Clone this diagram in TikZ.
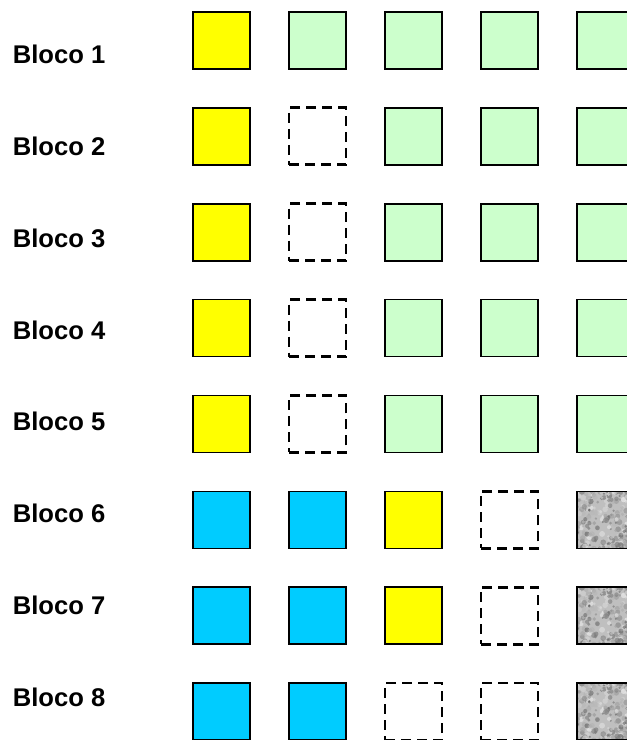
\documentclass[tikz,border=0pt]{standalone}
\usepackage{fontspec}
\setmainfont{Liberation Sans}
\usetikzlibrary{positioning}
\definecolor{amarelo}{HTML}{FFFF00}
\definecolor{verdeclaro}{HTML}{CCFFCC}
\definecolor{azul}{HTML}{00CCFF}

\begin{document}
\begin{tikzpicture}[x=1pt,y=-1pt,
	quad/.style={draw=black, line width=1.6pt, minimum size=57pt, inner sep=0pt},
	am/.style={quad, fill=amarelo},
	vd/.style={quad, fill=verdeclaro},
	az/.style={quad, fill=azul},
	vz/.style={quad, line width=2.8pt, dash pattern=on 10pt off 6pt},
	rc/.style={quad, fill=black!25,
		path picture={
			\pgfmathsetseed{17}
			\foreach \k in {1,...,300}{
				\pgfmathsetmacro\px{(rnd-0.5)*62}
				\pgfmathsetmacro\py{(rnd-0.5)*62}
				\pgfmathsetmacro\tom{int(5+60*rnd)}
				\pgfmathsetmacro\raio{1+2*rnd}
				\fill[black!\tom, opacity=0.6] ([shift={(\px,\py)}]path picture bounding box.center) circle (\raio);
			}}},
	rotulo/.style={font=\bfseries\fontsize{25.6}{30}\selectfont, anchor=base west, inner sep=0pt}]
	
	\useasboundingbox (0,0) rectangle (627,740);
	
	% rotulos
	\foreach \r in {1,...,8}
		\node[rotulo] (l\r) at (12.7,{63.3+91.9*(\r-1)}) {Bloco \r};
	
	% quadrados
	\foreach \r/\lista in {1/{am,vd,vd,vd,vd}, 2/{am,vz,vd,vd,vd}, 3/{am,vz,vd,vd,vd},
		4/{am,vz,vd,vd,vd}, 5/{am,vz,vd,vd,vd}, 6/{az,az,am,vz,rc},
		7/{az,az,am,vz,rc}, 8/{az,az,vz,vz,rc}}
		\foreach \s [count=\c] in \lista
			\node[\s] (q\r-\c) at ({221.5+96*(\c-1)},{40.5+95.86*(\r-1)}) {};
	
\end{tikzpicture}
\end{document}
